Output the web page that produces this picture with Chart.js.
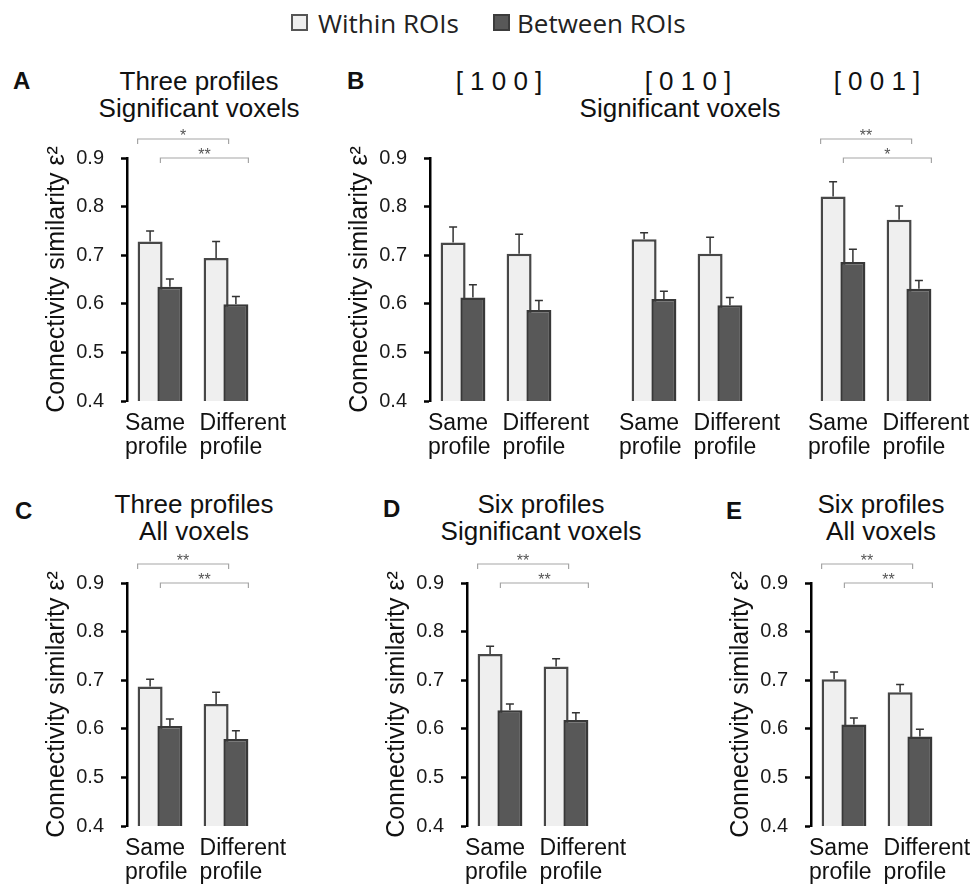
<!DOCTYPE html>
<html>
<head>
<meta charset="utf-8">
<script src="https://cdn.jsdelivr.net/npm/chart.js@4.4.1/dist/chart.umd.min.js"></script>
<style>
body { margin: 0; background: #fff; overflow: hidden; }
#fig { position: relative; width: 973px; height: 885px; font-family: 'Liberation Sans', Arial, sans-serif; color: #111; }
#fig canvas { position: absolute; }
.letter { position: absolute; font-weight: bold; font-size: 24px; line-height: 24px; }
.ttl { position: absolute; width: 300px; margin-left: -150px; text-align: center; font-size: 26px; line-height: 27px; white-space: nowrap; }
.lg { position: absolute; top: 8px; font-family: 'Open Sans', sans-serif; font-size: 26px; line-height: 30px; color: #222; }
.box { position: absolute; top: 14px; width: 13px; height: 13px; }
</style>
</head>
<body>
<div id="fig">
  <span class="box" style="left:291px;background:#efefef;border:2px solid #555"></span>
  <div class="lg" style="left:318px">Within ROIs</div>
  <span class="box" style="left:493px;background:#585858;border:2px solid #3c3c3c"></span>
  <div class="lg" style="left:517px">Between ROIs</div>

  <div class="letter" style="left:13px;top:69px">A</div>
  <div class="ttl" style="left:199px;top:68px">Three profiles<br>Significant voxels</div>
  <div class="letter" style="left:347px;top:69px">B</div>
  <div class="ttl" style="left:499px;top:68px">[ 1 0 0 ]</div>
  <div class="ttl" style="left:688px;top:68px">[ 0 1 0 ]</div>
  <div class="ttl" style="left:877px;top:68px">[ 0 0 1 ]</div>
  <div class="ttl" style="left:680px;top:95px">Significant voxels</div>
  <div class="letter" style="left:15px;top:499px">C</div>
  <div class="ttl" style="left:194px;top:491px">Three profiles<br>All voxels</div>
  <div class="letter" style="left:383px;top:497px">D</div>
  <div class="ttl" style="left:541px;top:491px">Six profiles<br>Significant voxels</div>
  <div class="letter" style="left:726px;top:499px">E</div>
  <div class="ttl" style="left:881px;top:491px">Six profiles<br>All voxels</div>

  <canvas id="cA" width="300" height="340" style="left:0px;top:120px"></canvas>
  <canvas id="cB1" width="300" height="340" style="left:303px;top:120px"></canvas>
  <canvas id="cB2" width="200" height="340" style="left:600px;top:120px"></canvas>
  <canvas id="cB3" width="183" height="340" style="left:790px;top:120px"></canvas>
  <canvas id="cC" width="300" height="340" style="left:0px;top:545px"></canvas>
  <canvas id="cD" width="300" height="340" style="left:340px;top:545px"></canvas>
  <canvas id="cE" width="289" height="340" style="left:684px;top:545px"></canvas>
</div>
<script>
const categories = ['Same profile', 'Different profile'];
const seriesNames = ['Within ROIs', 'Between ROIs'];
const yTicks = [0.4, 0.5, 0.6, 0.7, 0.8, 0.9];

// A: three profiles, significant voxels
const withinA = [0.728, 0.694];
const withinErrA = [0.022, 0.034];
const betweenA = [0.635, 0.599];
const betweenErrA = [0.016, 0.016];
const sigA = ['*', '**'];

// B: single profiles [1 0 0], [0 1 0], [0 0 1]
const withinB1 = [0.726, 0.703];
const withinErrB1 = [0.032, 0.040];
const betweenB1 = [0.613, 0.587];
const betweenErrB1 = [0.026, 0.020];

const withinB2 = [0.733, 0.703];
const withinErrB2 = [0.013, 0.034];
const betweenB2 = [0.610, 0.597];
const betweenErrB2 = [0.016, 0.016];

const withinB3 = [0.821, 0.773];
const withinErrB3 = [0.030, 0.028];
const betweenB3 = [0.686, 0.631];
const betweenErrB3 = [0.026, 0.017];
const sigB3 = ['**', '*'];

// C: three profiles, all voxels
const withinC = [0.687, 0.651];
const withinErrC = [0.015, 0.024];
const betweenC = [0.606, 0.579];
const betweenErrC = [0.014, 0.017];
const sigC = ['**', '**'];

// D: six profiles, significant voxels
const withinD = [0.754, 0.728];
const withinErrD = [0.016, 0.016];
const betweenD = [0.638, 0.618];
const betweenErrD = [0.013, 0.015];
const sigD = ['**', '**'];

// E: six profiles, all voxels
const withinE = [0.702, 0.675];
const withinErrE = [0.015, 0.016];
const betweenE = [0.609, 0.584];
const betweenErrE = [0.013, 0.015];
const sigE = ['**', '**'];

Chart.defaults.font.family = "'Liberation Sans', Arial, sans-serif";
Chart.defaults.color = '#111';

// upper error bars
const errorBars = {
    id: 'errorBars',
    afterDatasetsDraw(chart) {
        const ctx = chart.ctx;
        const y = chart.scales.y;
        ctx.save();
        ctx.strokeStyle = '#333';
        ctx.lineWidth = 1.5;
        chart.data.datasets.forEach((ds, di) => {
            chart.getDatasetMeta(di).data.forEach((bar, i) => {
                const top = y.getPixelForValue(ds.data[i].y + ds.err[i]);
                ctx.beginPath();
                ctx.moveTo(bar.x, bar.y);
                ctx.lineTo(bar.x, top);
                ctx.moveTo(bar.x - 4, top);
                ctx.lineTo(bar.x + 4, top);
                ctx.stroke();
            });
        });
        ctx.restore();
    }
};

// significance brackets above the plot
const brackets = {
    id: 'brackets',
    afterDraw(chart, args, opts) {
        if (!opts.marks) return;
        const {ctx, chartArea} = chart;
        ctx.save();
        ctx.strokeStyle = '#a5a5a5';
        ctx.lineWidth = 1.2;
        ctx.fillStyle = '#555';
        ctx.font = "16px 'Liberation Sans', Arial, sans-serif";
        ctx.textAlign = 'center';
        ctx.textBaseline = 'alphabetic';
        [0, 1].forEach(k => {
            const bars = chart.getDatasetMeta(k).data;
            const x1 = bars[0].x - bars[0].width / 2 + (k ? 3 : 0);
            const x2 = bars[1].x + bars[1].width / 2;
            const yl = chartArea.top - (k ? 0 : 19);
            ctx.beginPath();
            ctx.moveTo(x1, yl + 5);
            ctx.lineTo(x1, yl);
            ctx.lineTo(x2, yl);
            ctx.lineTo(x2, yl + 5);
            ctx.stroke();
            ctx.fillText(opts.marks[k], (x1 + x2) / 2, yl + 2);
        });
        ctx.restore();
    }
};

function panel(id, within, withinErr, between, betweenErr, marks, showY, pad) {
    return new Chart(document.getElementById(id), {
        type: 'bar',
        data: {
            datasets: [{
                label: seriesNames[0],
                data: within.map((v, i) => ({ x: i - 0.15, y: v })),
                err: withinErr,
                backgroundColor: '#efefef',
                borderColor: '#474747',
                order: 1
            }, {
                label: seriesNames[1],
                data: between.map((v, i) => ({ x: i + 0.15, y: v })),
                err: betweenErr,
                backgroundColor: '#585858',
                borderColor: '#383838',
                order: 0
            }]
        },
        options: {
            responsive: false,
            animation: false,
            grouped: false,
            barPercentage: 5,
            categoryPercentage: 1,
            maxBarThickness: 25,
            borderWidth: 2.5,
            borderSkipped: false,
            layout: { padding: pad },
            plugins: {
                legend: { display: false },
                tooltip: { enabled: false },
                brackets: { marks: marks }
            },
            scales: {
                x: {
                    type: 'linear',
                    offset: false,
                    min: -0.5,
                    max: 1.5,
                    grid: { display: false, offset: false },
                    border: { display: false },
                    afterBuildTicks: s => { s.ticks = [{ value: -0.53 }, { value: 0.6 }]; },
                    afterFit: s => { s.height = 59; s.paddingLeft = 0; s.paddingRight = 0; },
                    ticks: {
                        autoSkip: false,
                        maxRotation: 0,
                        align: 'start',
                        padding: 2,
                        color: '#111',
                        font: { size: 23, lineHeight: 1.06 },
                        callback: (v, i) => categories[i].split(' ')
                    }
                },
                y: {
                    display: showY,
                    min: 0.4,
                    max: 0.9,
                    afterBuildTicks: s => { s.ticks = yTicks.map(v => ({ value: v })); },
                    afterFit: s => { if (showY) s.width = 127; },
                    border: { display: true, color: '#000', width: 2.5 },
                    grid: { display: true, drawOnChartArea: false, drawTicks: true, tickLength: 6, tickColor: '#000', tickWidth: 2.5 },
                    ticks: {
                        padding: 17,
                        color: '#1a1a1a',
                        font: { size: 20 },
                        callback: v => v.toFixed(1)
                    },
                    title: {
                        display: true,
                        text: 'Connectivity similarity ε²',
                        color: '#111',
                        font: { size: 25 },
                        padding: { top: 42, bottom: 0 }
                    }
                }
            }
        },
        plugins: [errorBars, brackets]
    });
}

panel('cA', withinA, withinErrA, betweenA, betweenErrA, sigA, true, { top: 38, left: 0, right: 41, bottom: 0 });
panel('cB1', withinB1, withinErrB1, betweenB1, betweenErrB1, null, true, { top: 38, left: 0, right: 41, bottom: 0 });
panel('cB2', withinB2, withinErrB2, betweenB2, betweenErrB2, null, false, { top: 38, left: 21, right: 47, bottom: 0 });
panel('cB3', withinB3, withinErrB3, betweenB3, betweenErrB3, sigB3, false, { top: 38, left: 20, right: 31, bottom: 0 });
panel('cC', withinC, withinErrC, betweenC, betweenErrC, sigC, true, { top: 38, left: 0, right: 41, bottom: 0 });
panel('cD', withinD, withinErrD, betweenD, betweenErrD, sigD, true, { top: 38, left: 0, right: 41, bottom: 0 });
panel('cE', withinE, withinErrE, betweenE, betweenErrE, sigE, true, { top: 38, left: 0, right: 30, bottom: 0 });
</script>
</body>
</html>
